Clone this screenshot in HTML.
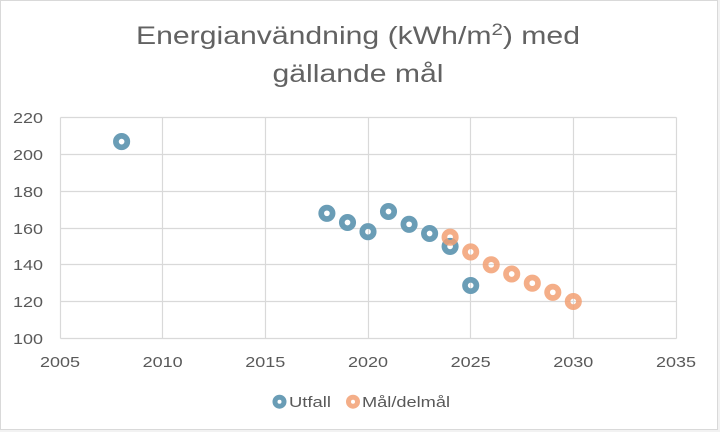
<!DOCTYPE html>
<html><head><meta charset="utf-8"><style>
html,body{margin:0;padding:0;background:#fff;}
svg{display:block;font-family:"Liberation Sans",sans-serif;}
</style></head><body>
<svg width="720" height="432" viewBox="0 0 720 432" xmlns="http://www.w3.org/2000/svg">
<rect x="0" y="0" width="720" height="432" fill="#f2f2f2"/>
<rect x="0.5" y="0.5" width="717" height="429" fill="#fff" stroke="#d9d9d9" stroke-width="1"/>
<g fill="#626262" font-size="25">
<text x="136" y="44" textLength="444" lengthAdjust="spacingAndGlyphs">Energianvändning (kWh/m<tspan font-size="17" dy="-9">2</tspan><tspan dy="9">) med</tspan></text>
<text x="358" y="82" text-anchor="middle" textLength="171" lengthAdjust="spacingAndGlyphs">gällande mål</text>
</g>
<g stroke="#d9d9d9" stroke-width="1.2" fill="none">
<line x1="60.5" y1="117.5" x2="676.5" y2="117.5"/>
<line x1="60.5" y1="154.5" x2="676.5" y2="154.5"/>
<line x1="60.5" y1="191.5" x2="676.5" y2="191.5"/>
<line x1="60.5" y1="228.5" x2="676.5" y2="228.5"/>
<line x1="60.5" y1="264.5" x2="676.5" y2="264.5"/>
<line x1="60.5" y1="301.5" x2="676.5" y2="301.5"/>
<line x1="60.5" y1="338.5" x2="676.5" y2="338.5"/>
<line x1="60.5" y1="117.5" x2="60.5" y2="338.5"/>
<line x1="162.5" y1="117.5" x2="162.5" y2="338.5"/>
<line x1="265.5" y1="117.5" x2="265.5" y2="338.5"/>
<line x1="368.5" y1="117.5" x2="368.5" y2="338.5"/>
<line x1="470.5" y1="117.5" x2="470.5" y2="338.5"/>
<line x1="573.5" y1="117.5" x2="573.5" y2="338.5"/>
<line x1="676.5" y1="117.5" x2="676.5" y2="338.5"/>
</g>
<g fill="#595959" font-size="15" text-anchor="end">
<text x="43" y="123" textLength="30" lengthAdjust="spacingAndGlyphs">220</text>
<text x="43" y="160" textLength="30" lengthAdjust="spacingAndGlyphs">200</text>
<text x="43" y="197" textLength="30" lengthAdjust="spacingAndGlyphs">180</text>
<text x="43" y="234" textLength="30" lengthAdjust="spacingAndGlyphs">160</text>
<text x="43" y="270" textLength="30" lengthAdjust="spacingAndGlyphs">140</text>
<text x="43" y="307" textLength="30" lengthAdjust="spacingAndGlyphs">120</text>
<text x="43" y="344" textLength="30" lengthAdjust="spacingAndGlyphs">100</text>
</g>
<g fill="#595959" font-size="15" text-anchor="middle">
<text x="60" y="367" textLength="40" lengthAdjust="spacingAndGlyphs">2005</text>
<text x="162.7" y="367" textLength="40" lengthAdjust="spacingAndGlyphs">2010</text>
<text x="265.3" y="367" textLength="40" lengthAdjust="spacingAndGlyphs">2015</text>
<text x="368" y="367" textLength="40" lengthAdjust="spacingAndGlyphs">2020</text>
<text x="470.7" y="367" textLength="40" lengthAdjust="spacingAndGlyphs">2025</text>
<text x="573.3" y="367" textLength="40" lengthAdjust="spacingAndGlyphs">2030</text>
<text x="676" y="367" textLength="40" lengthAdjust="spacingAndGlyphs">2035</text>
</g>
<g fill="none" stroke="#6a9db6" stroke-width="5.7">
<circle cx="121.6" cy="141.6" r="5.7"/>
<circle cx="326.9" cy="213.3" r="5.7"/>
<circle cx="347.5" cy="222.5" r="5.7"/>
<circle cx="368.0" cy="231.7" r="5.7"/>
<circle cx="388.5" cy="211.5" r="5.7"/>
<circle cx="409.1" cy="224.3" r="5.7"/>
<circle cx="429.6" cy="233.5" r="5.7"/>
<circle cx="450.1" cy="246.4" r="5.7"/>
<circle cx="470.7" cy="285.5" r="5.7"/>
</g>
<g fill="none" stroke="#f2a073" stroke-width="5.7" stroke-opacity="0.85">
<circle cx="450.1" cy="237.2" r="5.7"/>
<circle cx="470.7" cy="251.9" r="5.7"/>
<circle cx="491.2" cy="264.8" r="5.7"/>
<circle cx="511.7" cy="274.0" r="5.7"/>
<circle cx="532.3" cy="283.2" r="5.7"/>
<circle cx="552.8" cy="292.3" r="5.7"/>
<circle cx="573.3" cy="301.5" r="5.7"/>
</g>
<circle cx="279.5" cy="401.7" r="4.5" fill="none" stroke="#6a9db6" stroke-width="5"/>
<circle cx="353" cy="401.7" r="4.5" fill="none" stroke="#f2a073" stroke-opacity="0.85" stroke-width="5"/>
<g fill="#595959" font-size="15">
<text x="289" y="407" textLength="42" lengthAdjust="spacingAndGlyphs">Utfall</text>
<text x="362" y="407" textLength="88" lengthAdjust="spacingAndGlyphs">Mål/delmål</text>
</g>
</svg>
</body></html>
